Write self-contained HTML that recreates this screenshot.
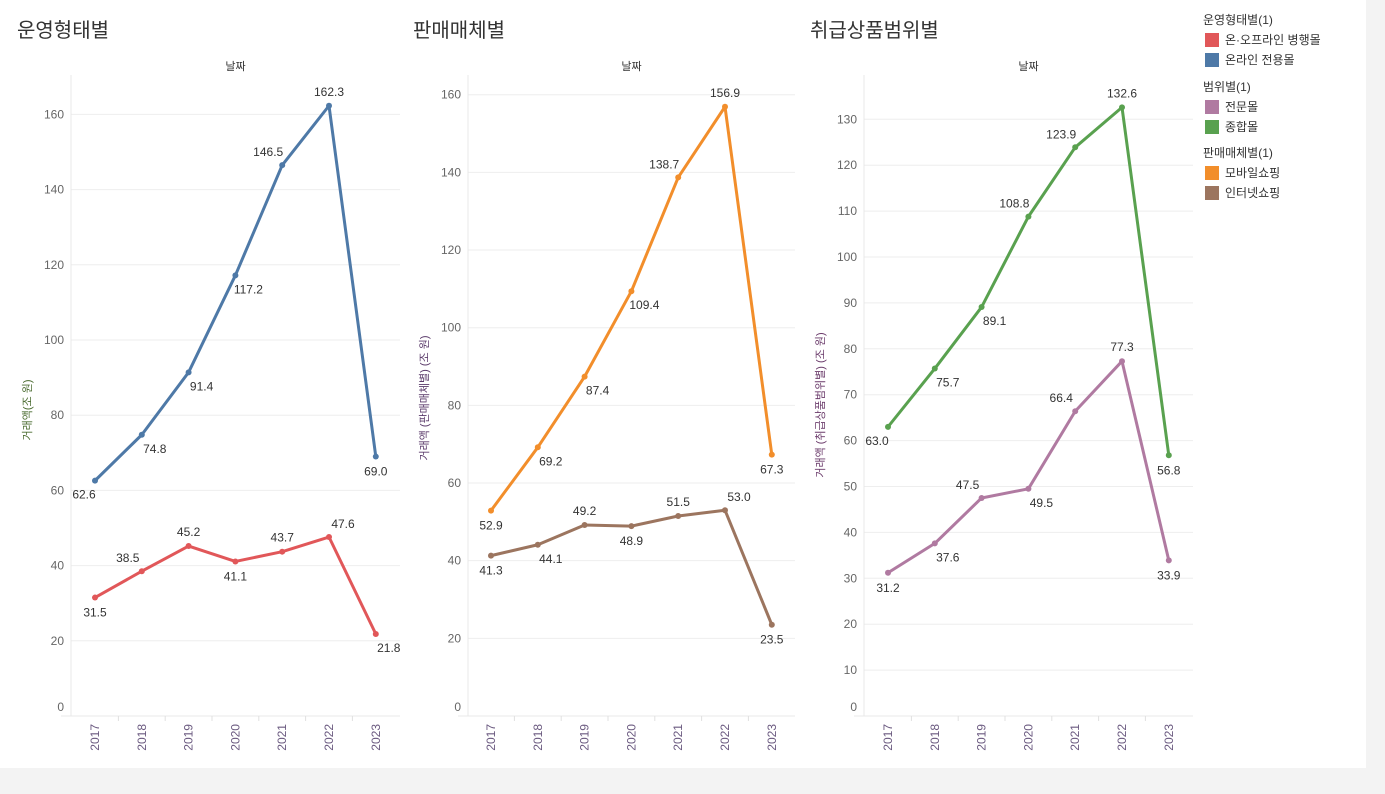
<!DOCTYPE html>
<html><head><meta charset="utf-8">
<style>
html,body{margin:0;padding:0;background:#f3f3f3;}
#wrap{position:relative;width:1385px;height:794px;overflow:hidden;background:#f3f3f3;}
#white{position:absolute;left:0;top:0;width:1366px;height:768px;background:#fff;}
svg{position:absolute;left:0;top:0;}
text{font-family:"Liberation Sans","Noto Sans CJK KR",sans-serif;}
</style></head>
<body>
<div id="wrap">
<div id="white"></div>
<svg id="svg" width="1385" height="794"></svg>
</div>
<script>
const years = ["2017","2018","2019","2020","2021","2022","2023"];
const onOffline = [31.5,38.5,45.2,41.1,43.7,47.6,21.8];
const onlineOnly = [62.6,74.8,91.4,117.2,146.5,162.3,69.0];
const mobile = [52.9,69.2,87.4,109.4,138.7,156.9,67.3];
const internet = [41.3,44.1,49.2,48.9,51.5,53.0,23.5];
const general = [63.0,75.7,89.1,108.8,123.9,132.6,56.8];
const specialty = [31.2,37.6,47.5,49.5,66.4,77.3,33.9];
const ticks1 = [0,20,40,60,80,100,120,140,160];
const ticks2 = [0,20,40,60,80,100,120,140,160];
const ticks3 = [0,10,20,30,40,50,60,70,80,90,100,110,120,130];

const NS="http://www.w3.org/2000/svg";
const svg=document.getElementById('svg');
function mk(tag,attrs,parent){const e=document.createElementNS(NS,tag);for(const k in attrs)e.setAttribute(k,attrs[k]);(parent||svg).appendChild(e);return e;}
const off={a:[0,-14],b:[0,15],al:[-14,-13],ar:[14,-13],bl:[-11,14],br:[13,14]};

const charts=[
 {title:"운영형태별",tx:17,left:71,right:400,x0:95,k:3.76,ticks:ticks1,ytitle:"거래액(조 원)",ytx:31,yty:410,ytc:"#4a6b2f",
  series:[{name:"online-only",vals:onlineOnly,color:"#4e79a7",pos:["bl","br","br","br","al","a","b"]},
          {name:"on-offline",vals:onOffline,color:"#e15759",pos:["b","al","a","b","a","ar","br"]}]},
 {title:"판매매체별",tx:413,left:468,right:795,x0:491,k:3.883,ticks:ticks2,ytitle:"거래액 (판매매체별) (조 원)",ytx:428,yty:398,ytc:"#5a3a6a",
  series:[{name:"mobile",vals:mobile,color:"#f28e2b",pos:["b","br","br","br","al","a","b"]},
          {name:"internet",vals:internet,color:"#9c755f",pos:["b","br","a","b","a","ar","b"]}]},
 {title:"취급상품범위별",tx:810,left:864,right:1193,x0:888,k:4.59,ticks:ticks3,ytitle:"거래액 (취급상품범위별) (조 원)",ytx:824,yty:405,ytc:"#6a3a6a",
  series:[{name:"general",vals:general,color:"#59a14f",pos:["bl","br","br","al","al","a","b"]},
          {name:"specialty",vals:specialty,color:"#b07aa1",pos:["b","br","al","br","al","a","b"]}]}
];
const Y0=716, TOP=75, DX=46.8;
charts.forEach((c,ci)=>{
  const g=mk('g',{});
  
  
  const xs=i=>c.x0+i*DX, ys=v=>Y0-v*c.k;
  const t=mk('text',{x:c.tx,y:37,'font-size':20,fill:'#333'},g);t.textContent=c.title;
  
  const h=mk('text',{x:(c.left+c.right)/2,y:70,'font-size':11,fill:'#333','text-anchor':'middle'},g);h.textContent="날짜";
  
  c.ticks.forEach(tv=>{
    const y=ys(tv);
    if(tv>0){const l=mk('line',{x1:c.left,x2:c.right,y1:y,y2:y,stroke:'#eeeeee','stroke-width':1},g);
      }
    const tl=mk('text',{x:c.left-7,y:(tv===0?707:y)+4,'font-size':12,fill:'#666','text-anchor':'end'},g);tl.textContent=tv;
    
  });
  mk('line',{x1:c.left,x2:c.left,y1:TOP,y2:Y0,stroke:'#e8e8e8'},g);
  mk('line',{x1:c.left-10,x2:c.right,y1:Y0,y2:Y0,stroke:'#e8e8e8'},g);
  years.forEach((yr,i)=>{
    if(i>0){mk('line',{x1:xs(i)-DX/2,x2:xs(i)-DX/2,y1:Y0,y2:Y0+5,stroke:'#e0e0e0'},g);}
    const x=xs(i);
    const yl=mk('text',{x:x+4,y:Y0+8,'font-size':12,fill:'#6b5a80','text-anchor':'end',transform:`rotate(-90 ${x+4} ${Y0+8})`},g);
    yl.textContent=yr;
    
  });
  const yt=mk('text',{x:c.ytx,y:c.yty,'font-size':11,fill:c.ytc,'text-anchor':'middle',transform:`rotate(-90 ${c.ytx} ${c.yty})`},g);
  yt.textContent=c.ytitle;
  
  c.series.forEach(s=>{
    const pts=s.vals.map((v,i)=>xs(i)+','+ys(v)).join(' ');
    const pl=mk('polyline',{points:pts,fill:'none',stroke:s.color,'stroke-width':3,'stroke-linejoin':'round'},g);
    
    s.vals.forEach((v,i)=>{
      const p=mk('circle',{cx:xs(i),cy:ys(v),r:3,fill:s.color},g);
      
      const o=off[s.pos[i]];
      const lb=mk('text',{x:xs(i)+o[0],y:ys(v)+o[1]+4,'font-size':12,fill:'#333','text-anchor':o[0]<0?'end':(o[0]>0?'start':'middle')},g);
      if(o[0]<0)lb.setAttribute('x',xs(i)+o[0]+14);
      if(o[0]>0)lb.setAttribute('x',xs(i)+o[0]-14);
      lb.setAttribute('text-anchor','middle');
      lb.setAttribute('x',xs(i)+o[0]);
      lb.textContent=v.toFixed(1);
      
    });
  });
});
// legend
const legend=[
 {h:"운영형태별(1)",y:24,items:[["온·오프라인 병행몰","#e15759"],["온라인 전용몰","#4e79a7"]]},
 {h:"범위별(1)",y:91,items:[["전문몰","#b07aa1"],["종합몰","#59a14f"]]},
 {h:"판매매체별(1)",y:157,items:[["모바일쇼핑","#f28e2b"],["인터넷쇼핑","#9c755f"]]}
];
const lg=mk('g',{});


legend.forEach(sec=>{
  const ht=mk('text',{x:1203,y:sec.y,'font-size':12,fill:'#333'},lg);ht.textContent=sec.h;
  
  sec.items.forEach((it,i)=>{
    const y=sec.y+9+i*20;
    const r=mk('rect',{x:1205,y:y,width:14,height:14,fill:it[1]},lg);
    
    const tt=mk('text',{x:1225,y:y+11,'font-size':12,fill:'#333'},lg);tt.textContent=it[0];
    
  });
});
</script>
</body></html>
